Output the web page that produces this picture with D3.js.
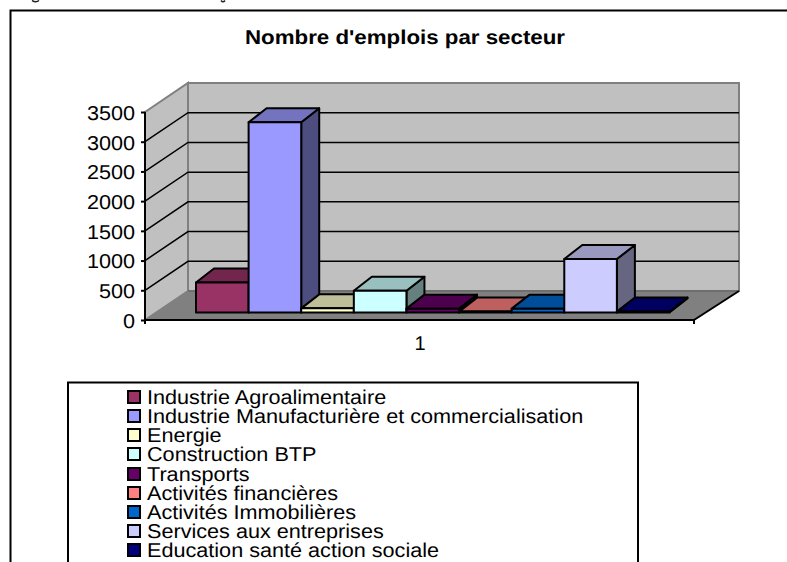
<!DOCTYPE html>
<html>
<head>
<meta charset="utf-8">
<script src="https://cdn.jsdelivr.net/npm/d3@7"></script>
<style>
  html, body { margin: 0; padding: 0; background: #fff; }
  svg { display: block; }
  text { font-family: "Liberation Sans", Arial, sans-serif; fill: #000; text-rendering: geometricPrecision; }
</style>
</head>
<body>
<div id="chart"></div>
<script>
const sectors = [
  'Industrie Agroalimentaire',
  'Industrie Manufacturière et commercialisation',
  'Energie',
  'Construction BTP',
  'Transports',
  'Activités financières',
  'Activités Immobilières',
  'Services aux entreprises',
  'Education santé action sociale'
];
const emplois = [505, 3200, 70, 365, 65, 15, 65, 900, 15];
const colors = ['#993366', '#9999ff', '#ffffcc', '#ccffff', '#660066', '#ff8080', '#0066cc', '#ccccff', '#000080'];
const yTicks = [0, 500, 1000, 1500, 2000, 2500, 3000, 3500];
const categories = ['1'];

const width = 787, height = 562;
const fontSize = 20, stretch = 1.081; // the original text is a little wider than Liberation
const svg = d3.select('#chart').append('svg').attr('width', width).attr('height', height);

// outer frame, runs off the right and bottom of the picture
svg.append('path')
  .attr('d', `M10.5,${height + 5}V10.5H${width + 5}`)
  .attr('fill', 'none').attr('stroke', '#000').attr('stroke-width', 2);

// bits of the caption above the frame, cut by the top of the picture
svg.append('path')
  .attr('d', 'M32,0.5Q36,3 39,0.5M221,0.5Q223,3 225,0.5')
  .attr('fill', 'none').attr('stroke', '#222').attr('stroke-width', 1.5);

svg.append('text')
  .attr('transform', 'translate(405,44) scale(1.115,1)')
  .attr('text-anchor', 'middle')
  .attr('font-size', 20).attr('font-weight', 'bold')
  .text("Nombre d'emplois par secteur");

// 3d box
const left = 145, right = 694, backLeft = 188, backRight = 739;
const wallDy = -29;
const y = d3.scaleLinear().domain([0, 3500]).range([320, 112]);
const x = d3.scaleBand().domain(sectors).range([196, 669.5]);
const barDx = 18, barDy = -14, barLift = 7.5;

const poly = pts => 'M' + pts.map(p => p.join(',')).join('L') + 'Z';

svg.append('path')
  .attr('d', poly([[left, y(3500)], [backLeft, y(3500) + wallDy], [backLeft, y(0) + wallDy], [left, y(0)]]))
  .attr('fill', '#c0c0c0').attr('stroke', '#808080').attr('stroke-width', 2);
svg.append('rect')
  .attr('x', backLeft).attr('y', y(3500) + wallDy)
  .attr('width', backRight - backLeft).attr('height', y(0) - y(3500))
  .attr('fill', '#c0c0c0').attr('stroke', '#808080').attr('stroke-width', 2);

// gridlines on both walls
yTicks.slice(1, -1).forEach(t => {
  svg.append('path')
    .attr('d', `M${left},${y(t)}L${backLeft},${y(t) + wallDy}H${backRight}`)
    .attr('fill', 'none').attr('stroke', '#000').attr('stroke-width', 1.5);
});

// floor
svg.append('path')
  .attr('d', poly([[left, y(0)], [backLeft, y(0) + wallDy], [backRight, y(0) + wallDy], [right, y(0)]]))
  .attr('fill', '#808080');
svg.append('path')
  .attr('d', `M${backLeft},${y(0) + wallDy}H${backRight}`)
  .attr('stroke', '#6e6e6e').attr('stroke-width', 2);
svg.append('path')
  .attr('d', `M${right},${y(0)}L${backRight},${y(0) + wallDy}`)
  .attr('stroke', '#000').attr('stroke-width', 2);

// bars, left to right so each one sits over its neighbour's side
const shade = (c, k) => {
  const r = d3.rgb(c);
  return d3.rgb(r.r * k, r.g * k, r.b * k).formatHex();
};
sectors.forEach((s, i) => {
  const x0 = x(s), x1 = x0 + x.bandwidth();
  const top = y(emplois[i]) - barLift, base = y(0) - barLift;
  const g = svg.append('g').attr('stroke', '#000').attr('stroke-width', 2).attr('stroke-linejoin', 'round');
  g.append('path').attr('fill', shade(colors[i], 0.5))
    .attr('d', poly([[x1, top], [x1 + barDx, top + barDy], [x1 + barDx, base + barDy], [x1, base]]));
  g.append('path').attr('fill', shade(colors[i], 0.75))
    .attr('d', poly([[x0, top], [x0 + barDx, top + barDy], [x1 + barDx, top + barDy], [x1, top]]));
  g.append('path').attr('fill', colors[i])
    .attr('d', poly([[x0, top], [x1, top], [x1, base], [x0, base]]));
});

// axes
const yAxis = svg.append('g')
  .attr('transform', `translate(${left},0)`)
  .call(d3.axisLeft(y).tickValues(yTicks).tickFormat(d3.format('d')).tickSize(4).tickPadding(6));
yAxis.selectAll('text')
  .attr('font-size', fontSize).attr('font-family', null)
  .attr('x', -10 / stretch).attr('y', 1)
  .attr('transform', `scale(${stretch},1)`);
yAxis.selectAll('line, path').attr('stroke', '#000').attr('stroke-width', 2);
yAxis.select('.domain').attr('d', `M0,${y(3500)}V${y(0)}`);

const xScale = d3.scalePoint().domain(categories).range([left, right]).padding(0.5);
const xAxis = svg.append('g')
  .attr('transform', `translate(0,${y(0)})`)
  .call(d3.axisBottom(xScale).tickSize(0).tickPadding(16));
xAxis.selectAll('text').attr('font-size', fontSize).attr('font-family', null);
xAxis.select('.domain').attr('d', `M${left},4V0H${right}V4`).attr('stroke', '#000').attr('stroke-width', 2).attr('fill', 'none');

// legend, its box is cut by the bottom of the picture
svg.append('rect')
  .attr('x', 68).attr('y', 382.5).attr('width', 570).attr('height', 200)
  .attr('fill', '#fff').attr('stroke', '#000').attr('stroke-width', 2);
const legendY = d3.scaleLinear().domain([0, sectors.length - 1]).range([397, 550]);
const legend = svg.selectAll('.legend-item').data(sectors).enter().append('g')
  .attr('class', 'legend-item')
  .attr('transform', (d, i) => `translate(0,${Math.round(legendY(i))})`);
legend.append('rect')
  .attr('x', 128).attr('y', -6).attr('width', 12).attr('height', 12)
  .attr('fill', (d, i) => colors[i]).attr('stroke', '#000').attr('stroke-width', 2);
legend.append('text')
  .attr('transform', `translate(147,6.5) scale(${stretch},1)`)
  .attr('font-size', fontSize)
  .text(d => d);
</script>
</body>
</html>
